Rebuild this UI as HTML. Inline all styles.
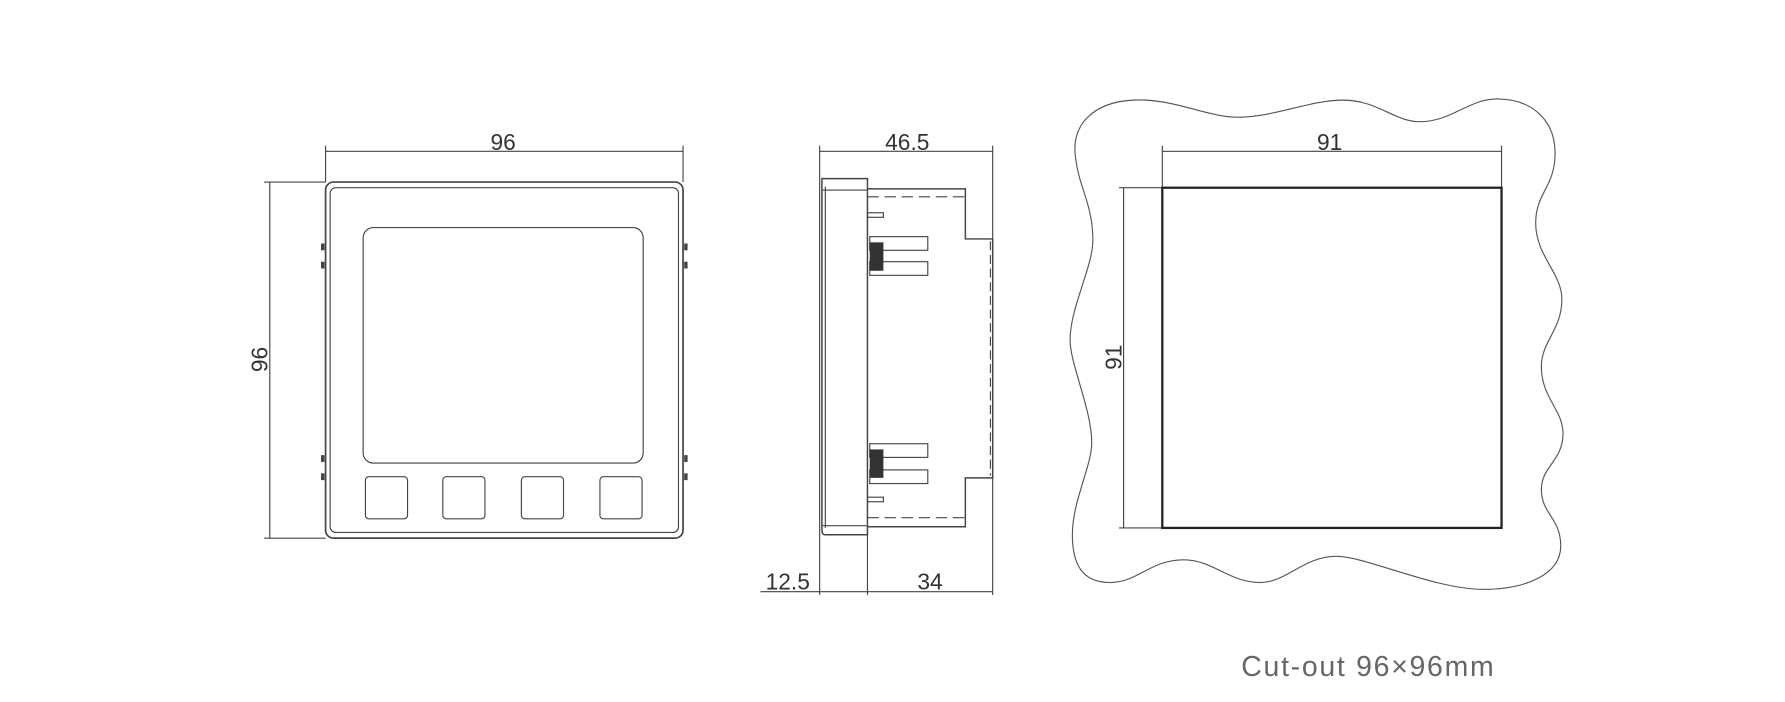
<!DOCTYPE html>
<html><head><meta charset="utf-8"><style>
html,body{margin:0;padding:0;background:#fff;}
svg{display:block}
text{font-family:"Liberation Sans",sans-serif;fill:#333}
</style></head><body>
<svg width="1785" height="702" viewBox="0 0 1568 617" preserveAspectRatio="none" xmlns="http://www.w3.org/2000/svg">
<g fill="none" stroke="#444" stroke-width="1">
<line x1="286" y1="128" x2="286" y2="160"/>
<line x1="600" y1="128" x2="600" y2="160"/>
<line x1="286" y1="133" x2="600" y2="133"/>
<line x1="232" y1="160" x2="286" y2="160"/>
<line x1="232" y1="473" x2="286" y2="473"/>
<line x1="237" y1="160" x2="237" y2="473"/>
<rect x="286" y="160" width="314" height="313" rx="7" stroke-width="1.5"/>
<rect x="290" y="165" width="306" height="303" rx="5"/>
<rect x="319" y="200" width="246" height="207" rx="9"/>
<rect x="321" y="419" width="37" height="37" rx="3"/>
<rect x="389" y="419" width="37" height="37" rx="3"/>
<rect x="458" y="419" width="37" height="37" rx="3"/>
<rect x="527" y="419" width="37" height="37" rx="3"/>
</g>
<g fill="#444">
<rect x="282" y="214" width="3" height="6"/><rect x="282" y="230" width="3" height="6"/>
<rect x="282" y="400" width="3" height="6"/><rect x="282" y="416" width="3" height="6"/>
<rect x="601" y="214" width="3" height="6"/><rect x="601" y="230" width="3" height="6"/>
<rect x="601" y="400" width="3" height="6"/><rect x="601" y="416" width="3" height="6"/>
</g>
<text x="442" y="132" font-size="20" text-anchor="middle">96</text>
<text transform="translate(235,316) rotate(-90)" font-size="20" text-anchor="middle">96</text>

<g fill="none" stroke="#444" stroke-width="1">
<line x1="720" y1="128" x2="720" y2="523"/>
<line x1="872" y1="128" x2="872" y2="523"/>
<line x1="762" y1="470" x2="762" y2="523"/>
<line x1="720" y1="133" x2="872" y2="133"/>
<line x1="668" y1="520" x2="872" y2="520"/>
<path d="M722,157 H762 V470 H725 Q722,470 722,466 Z" stroke-width="1.3"/>
<line x1="725" y1="164" x2="725" y2="464"/>
<line x1="722" y1="167" x2="762" y2="167"/>
<line x1="722" y1="462" x2="762" y2="462"/>
<path d="M762,166 H848 V210 H872 V420 H848 V463 H762" stroke-width="1.3"/>
<line x1="762" y1="173" x2="848" y2="173" stroke-dasharray="10,5"/>
<line x1="762" y1="455" x2="848" y2="455" stroke-dasharray="10,5"/>
<line x1="870" y1="212" x2="870" y2="418" stroke-dasharray="8,4"/>
<rect x="762" y="187" width="14" height="4"/>
<rect x="762" y="437" width="14" height="4"/>
<rect x="764" y="208" width="51" height="12"/>
<rect x="764" y="230" width="51" height="12"/>
<rect x="764" y="390" width="51" height="12"/>
<rect x="764" y="413" width="51" height="12"/>
</g>
<g fill="#333">
<rect x="764" y="213" width="12" height="25"/>
<rect x="764" y="395" width="12" height="25"/>
</g>
<text x="797" y="132" font-size="20" text-anchor="middle">46.5</text>
<text x="692" y="518" font-size="20" text-anchor="middle">12.5</text>
<text x="817" y="518" font-size="20" text-anchor="middle">34</text>

<path fill="none" stroke="#555" stroke-width="1" d="M945,140 C940,110 960,90 995,88 C1030,86 1060,103 1087,103 C1120,103 1150,88 1180,88 C1210,88 1225,107 1247,107 C1275,107 1290,87 1315,87 C1345,87 1367,105 1366,137 C1365,165 1349,170 1349,196 C1349,225 1372,240 1372,263 C1372,290 1354,300 1354,322 C1354,350 1373,360 1373,381 C1373,405 1354,410 1354,430 C1354,452 1371,455 1371,480 C1371,505 1340,518 1303,518 C1260,518 1200,489 1174,489 C1145,489 1130,512 1107,512 C1080,512 1065,492 1040,492 C1010,492 1000,512 975,512 C950,512 942,495 942,470 C942,440 959,410 959,389 C959,360 940,320 940,299 C940,270 960,235 960,211 C960,180 948,165 945,140 Z"/>
<g fill="none" stroke="#444" stroke-width="1">
<line x1="1021" y1="128" x2="1021" y2="165"/>
<line x1="1319" y1="128" x2="1319" y2="165"/>
<line x1="1021" y1="133" x2="1319" y2="133"/>
<line x1="983" y1="165" x2="1021" y2="165"/>
<line x1="983" y1="464" x2="1021" y2="464"/>
<line x1="987" y1="165" x2="987" y2="464"/>
</g>
<rect x="1021" y="165" width="298" height="299" fill="none" stroke="#222" stroke-width="2"/>
<text x="1168" y="132" font-size="20" text-anchor="middle">91</text>
<text transform="translate(985,314) rotate(-90)" font-size="20" text-anchor="middle">91</text>
<text x="1202" y="594" font-size="25" letter-spacing="1.5" text-anchor="middle" style="fill:#666">Cut-out 96×96mm</text>
</svg>
</body></html>
